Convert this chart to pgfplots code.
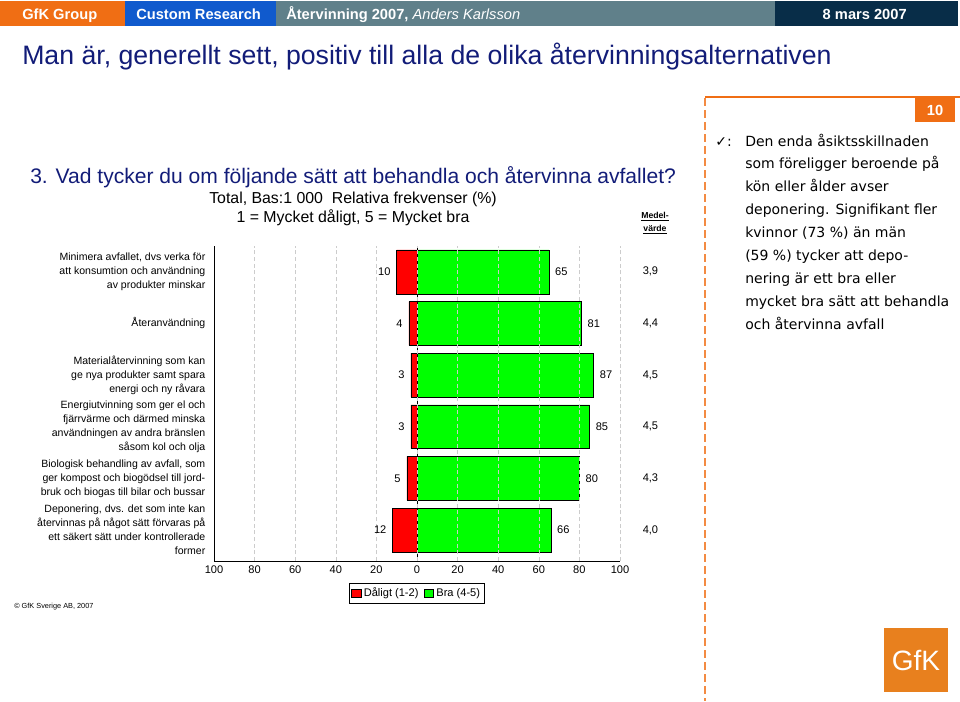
\documentclass[border=0pt]{standalone}
\usepackage{pgfplots}
\pgfplotsset{compat=1.18}
\usepackage{fontspec}
\setmainfont{Liberation Sans}
\newfontfamily\dejavu{DejaVu Sans}
\definecolor{gfkorange}{RGB}{240,110,20}
\definecolor{gfkblue}{RGB}{16,90,205}
\definecolor{gfkgrey}{RGB}{96,128,138}
\definecolor{gfknavy}{RGB}{8,45,72}
\definecolor{titleblue}{RGB}{18,28,120}
\definecolor{logoorange}{RGB}{232,128,30}
\begin{document}
\begin{tikzpicture}[x=0.75pt,y=-0.75pt]
\path[use as bounding box] (0,0) rectangle (960,701);
% header
\fill[gfkorange] (0,1) rectangle (125,26);
\fill[gfkblue] (125,1) rectangle (276,26);
\fill[gfkgrey] (276,1) rectangle (775,26);
\fill[gfknavy] (775,1) rectangle (958,26);
\node[anchor=base west,text=white,font=\bfseries\fontsize{11}{13}\selectfont,inner sep=0] at (22,19) {GfK Group};
\node[anchor=base west,text=white,font=\bfseries\fontsize{11}{13}\selectfont,inner sep=0] at (136,19) {Custom Research};
\node[anchor=base west,text=white,font=\fontsize{11}{13}\selectfont,inner sep=0] at (286,19) {\textbf{Återvinning 2007,} \textit{Anders Karlsson}};
\node[anchor=base east,text=white,font=\bfseries\fontsize{11}{13}\selectfont,inner sep=0] at (907,19) {8 mars 2007};
% title
\node[anchor=base west,text=titleblue,font=\fontsize{20}{23}\selectfont,inner sep=0] at (22,64) {Man är, generellt sett, positiv till alla de olika återvinningsalternativen};
% right panel decorations
\draw[gfkorange,line width=1pt] (705,97) -- (960,97);
\draw[gfkorange!80,line width=0.8pt,dash pattern=on 6pt off 3pt] (705,98) -- (705,701);
\fill[gfkorange] (915,98) rectangle (955,122);
\node[text=white,font=\bfseries\fontsize{11}{13}\selectfont,inner sep=0] at (935,110) {10};
\node[anchor=base west,font=\dejavu\fontsize{10.5}{12}\selectfont,inner sep=0] at (715,146) {✓:};
\foreach \t [count=\i from 0] in {Den enda åsiktsskillnaden,som föreligger beroende på,kön eller ålder avser,deponering. Signifikant fler,kvinnor (73 \%) än män,(59 \%) tycker att depo-,nering är ett bra eller,mycket bra sätt att behandla,och återvinna avfall}
  \node[anchor=base west,font=\dejavu\fontsize{10.5}{12}\selectfont,inner sep=0] at (745,146+22.9*\i) {\t};
% question
\node[anchor=base west,text=titleblue,font=\fontsize{15.8}{18}\selectfont,inner sep=0] at (30,183) {3. Vad tycker du om följande sätt att behandla och återvinna avfallet?};
\node[anchor=base,font=\fontsize{11.9}{14}\selectfont,inner sep=0] at (353,203) {Total, Bas:1 000\ \ Relativa frekvenser (\%)};
\node[anchor=base,font=\fontsize{11.9}{14}\selectfont,inner sep=0] at (353,222) {1 = Mycket dåligt, 5 = Mycket bra};
\node[anchor=base,font=\bfseries\fontsize{6.5}{8}\selectfont,inner sep=0] at (655,218) {\underline{Medel-}};
\node[anchor=base,font=\bfseries\fontsize{6.5}{8}\selectfont,inner sep=0] at (655,231) {\underline{värde}};
% footer
\node[anchor=base west,font=\fontsize{5.5}{7}\selectfont,inner sep=0] at (14,608) {© GfK Sverige AB, 2007};
\fill[logoorange] (884,628) rectangle (948,692);
\node[text=white,font=\fontsize{21}{24}\selectfont,inner sep=0] at (916,660) {GfK};
% chart
\coordinate (AX) at (214,246);
\begin{axis}[
  at={(AX)}, anchor=north west,
  scale only axis, width=304.5pt, height=236.25pt,
  bar shift=0pt, bar width=0.85,
  xmin=-100, xmax=100, ymin=-0.6, ymax=5.5,
  xtick={-100,-80,...,100},
  xticklabels={100,80,60,40,20,0,20,40,60,80,100},
  ytick={0,...,5},
  yticklabels={
    {Deponering, dvs. det som inte kan\\återvinnas på något sätt förvaras på\\ett säkert sätt under kontrollerade\\former},
    {Biologisk behandling av avfall, som\\ger kompost och biogödsel till jord-\\bruk och biogas till bilar och bussar},
    {Energiutvinning som ger el och\\fjärrvärme och därmed minska\\användningen av andra bränslen\\såsom kol och olja},
    {Materialåtervinning som kan\\ge nya produkter samt spara\\energi och ny råvara},
    {Återanvändning},
    {Minimera avfallet, dvs verka för\\att konsumtion och användning\\av produkter minskar}},
  yticklabel style={align=right,font=\fontsize{7.9}{10.5}\selectfont,xshift=-3pt},
  xticklabel style={font=\fontsize{8.3}{10}\selectfont},
  /pgf/number format/assume math mode=true,
  axis x line*=bottom, axis y line*=left, axis line style={-,black},
  ytick style={draw=none}, xtick style={draw=none},
  xmajorgrids, major grid style={gray!40, dash pattern=on 3pt off 2pt},
  axis on top,
  clip=false,
  legend style={at={(0.5,-0.07)}, anchor=north, legend columns=2, draw=black,
    font=\fontsize{8.3}{10}\selectfont, inner sep=1.5pt, /tikz/every even column/.append style={column sep=2pt}},
  legend image code/.code={\draw[#1] (0pt,-2.8pt) rectangle (7pt,2.8pt);},
]
\addplot[xbar, fill=red, draw=black, nodes near coords, point meta=explicit symbolic,
  every node near coord/.style={anchor=east, font=\fontsize{8.3}{10}\selectfont, text=black, inner sep=0pt, xshift=-4.5pt}]
  table[x=x, y=y, meta=l] {
x y l
-10 5 10
-4 4 4
-3 3 3
-3 2 3
-5 1 5
-12 0 12
};
\addlegendentry{Dåligt (1-2)}
\addplot[xbar, fill=green, draw=black, nodes near coords, point meta=explicit symbolic,
  every node near coord/.style={anchor=west, font=\fontsize{8.3}{10}\selectfont, text=black, inner sep=0pt, xshift=4.5pt}]
  table[x=x, y=y, meta=l] {
x y l
65 5 65
81 4 81
87 3 87
85 2 85
80 1 80
66 0 66
};
\addlegendentry{Bra (4-5)}
\addplot[draw=none, forget plot, nodes near coords, point meta=explicit symbolic,
  every node near coord/.style={anchor=center, font=\fontsize{8.3}{10}\selectfont, text=black}]
  table[x=x, y=y, meta=l] {
x y l
115 5 {3,9}
115 4 {4,4}
115 3 {4,5}
115 2 {4,5}
115 1 {4,3}
115 0 {4,0}
};
\draw[black] (axis cs:0,-0.6) -- (axis cs:0,5.5);
\end{axis}
\end{tikzpicture}
\end{document}
